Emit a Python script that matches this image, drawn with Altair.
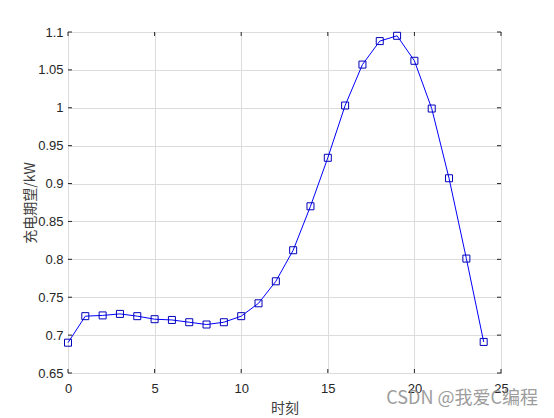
import altair as alt
import pandas as pd

hours = list(range(25))
values = [0.690, 0.725, 0.726, 0.728, 0.725, 0.721, 0.720, 0.717, 0.714, 0.717,
          0.725, 0.742, 0.771, 0.812, 0.870, 0.934, 1.003, 1.057, 1.088, 1.095,
          1.062, 0.999, 0.907, 0.801, 0.691]
x_ticks = [0, 5, 10, 15, 20, 25]
y_ticks = [0.65, 0.7, 0.75, 0.8, 0.85, 0.9, 0.95, 1.0, 1.05, 1.1]

W, H = 433, 341
TICK = 4
TXT = "#262626"

df = pd.DataFrame({"t": hours, "v": values})
dfx = pd.DataFrame({"t": x_ticks})
dfy = pd.DataFrame({"v": y_ticks})

xscale = alt.Scale(domain=[0, 25], nice=False)
yscale = alt.Scale(domain=[0.65, 1.1], nice=False, zero=False)

xaxis = alt.Axis(values=x_ticks, title="时刻", labelPadding=9,
                 titleY=35, titleBaseline="middle")
yaxis = alt.Axis(values=y_ticks, title="充电期望/kW", format="~g", labelPadding=5,
                 titleX=-38, titleY=H / 2, titleAngle=-90,
                 titleAlign="center", titleBaseline="middle")

X = alt.X("t:Q", scale=xscale, axis=xaxis)
Y = alt.Y("v:Q", scale=yscale, axis=yaxis)

base_line = alt.Chart(df).mark_line(color="#0000ff", strokeWidth=1).encode(x=X, y=Y)
points = alt.Chart(df).mark_point(shape="square", filled=False, color="#0000bb",
                                  size=49, strokeWidth=1, opacity=1).encode(x=X, y=Y)

tick_style = dict(color=TXT, strokeWidth=1)
bt = alt.Chart(dfx).mark_rule(**tick_style).encode(
    x=X, y=alt.value(H), y2=alt.value(H - TICK))
tt = alt.Chart(dfx).mark_rule(**tick_style).encode(
    x=X, y=alt.value(0), y2=alt.value(TICK))
lt = alt.Chart(dfy).mark_rule(**tick_style).encode(
    y=Y, x=alt.value(0), x2=alt.value(TICK))
rt = alt.Chart(dfy).mark_rule(**tick_style).encode(
    y=Y, x=alt.value(W - TICK), x2=alt.value(W))

wm = alt.Chart(pd.DataFrame({"s": ["CSDN @我爱C编程"]})).mark_text(
    align="right", baseline="alphabetic", fontSize=18, font="Noto Sans CJK SC",
    color="#8c8c8c", opacity=0.85).encode(
    text="s:N", x=alt.value(470), y=alt.value(372))

chart = alt.layer(base_line, points, bt, tt, lt, rt, wm).properties(
    width=W, height=H,
    background="white",
    autosize=alt.AutoSizeParams(type="none"),
    padding={"left": 60, "top": 24, "right": 45, "bottom": 46},
).configure_view(stroke=TXT, strokeWidth=1).configure_axis(
    grid=True, gridColor="#dcdcdc", ticks=False, domain=False,
    labelFontSize=13, labelFont="Liberation Sans", labelColor=TXT,
    labelOverlap=False, labelBound=False, labelFlush=False,
    titleFont="Noto Sans CJK SC", titleFontSize=14, titleFontWeight="normal",
    titleColor="#404040",
)

chart.save("out.html", embed_options={"renderer": "svg", "actions": False})
